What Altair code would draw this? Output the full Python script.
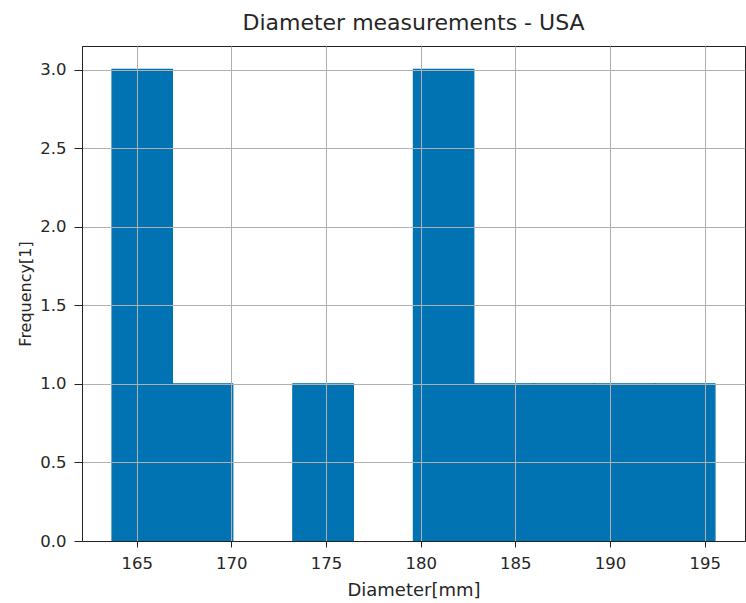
import altair as alt
import pandas as pd

bin_starts = [163.70, 166.88, 170.07, 173.25, 176.44, 179.62, 182.80, 185.99, 189.17, 192.36]
bin_ends = [166.88, 170.07, 173.25, 176.44, 179.62, 182.80, 185.99, 189.17, 192.36, 195.54]
counts = [3, 1, 0, 1, 0, 3, 1, 1, 1, 1]

x_ticks = [165, 170, 175, 180, 185, 190, 195]
y_ticks = [0.0, 0.5, 1.0, 1.5, 2.0, 2.5, 3.0]

df = pd.DataFrame({"start": bin_starts, "end": bin_ends, "count": counts})

FONT = "DejaVu Sans"
TXT = "#262626"
BLUE = "#0173B2"

chart = alt.Chart(df).transform_filter(
    alt.datum["count"] > 0
).mark_rect(color=BLUE, stroke=BLUE, strokeWidth=1.4).encode(
    x=alt.X("start:Q",
            scale=alt.Scale(domain=[162.11, 197.13], nice=False, zero=False),
            axis=alt.Axis(values=x_ticks, title="Diameter[mm]", format="d",
                          grid=True, gridColor="#b0b0b0", gridWidth=1, zindex=1,
                          tickSize=6, tickColor="#222", domainColor="#222",
                          labelPadding=8, titlePadding=10,
                          labelFontSize=16.5, titleFontSize=18,
                          labelFont=FONT, titleFont=FONT,
                          labelColor=TXT, titleColor=TXT, titleFontWeight="normal")),
    x2="end:Q",
    y=alt.Y("count:Q",
            scale=alt.Scale(domain=[0, 3.15], nice=False),
            axis=alt.Axis(values=y_ticks, title="Frequency[1]", format=".1f",
                          grid=True, gridColor="#b0b0b0", gridWidth=1, zindex=1,
                          tickSize=8, tickColor="#222", domainColor="#222",
                          labelPadding=8, titlePadding=6,
                          labelFontSize=16.5, titleFontSize=16,
                          labelFont=FONT, titleFont=FONT,
                          labelColor=TXT, titleColor=TXT, titleFontWeight="normal")),
    y2=alt.datum(0),
).properties(
    width=663,
    height=495,
    title=alt.TitleParams("Diameter measurements - USA", fontSize=22, font=FONT,
                          fontWeight="normal", color=TXT, offset=11),
    autosize=alt.AutoSizeParams(type="none"),
    padding={"left": 82, "top": 46, "right": 1, "bottom": 62},
).configure_view(stroke="#222", strokeWidth=1)

chart.save("out.html", embed_options={"renderer": "svg", "actions": False})
